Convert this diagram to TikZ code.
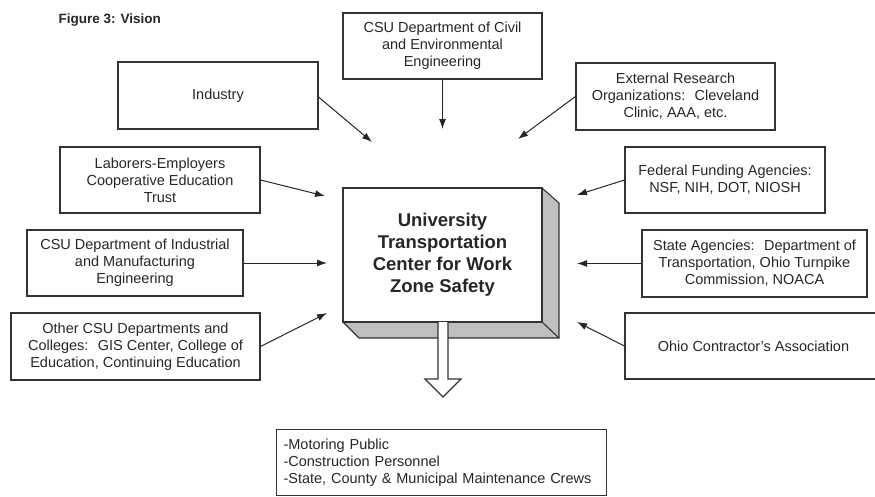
\documentclass[tikz,border=0pt]{standalone}
\usepackage{fontspec}
\setmainfont{Liberation Sans}
\usetikzlibrary{arrows.meta}

\begin{document}
\begin{tikzpicture}[x=1pt, y=-1pt, >={Latex[length=10pt,width=7pt]},
    box/.style={draw=black!80, line width=1.1pt, rectangle, align=center,
      inner sep=0pt, text=black!85, font=\fontsize{14.5}{17}\selectfont},
    feed/.style={->, line width=1pt, draw=black!85}]

  \useasboundingbox (0,0) rectangle (875,496);

  % ---- Title ----
  \node[anchor=west, font=\fontsize{13.5}{16}\selectfont\bfseries, text=black!85]
    (title) at (55,20) {Figure 3: Vision};

  % ---- Partner boxes (centres and sizes in pixels) ----
  \node[box, minimum width=199, minimum height=66] (civil) at (442.5,46)
    {CSU Department of Civil\\and Environmental\\Engineering};
  \node[box, minimum width=200, minimum height=67] (industry) at (218,95.5)
    {Industry};
  \node[box, minimum width=199, minimum height=67] (external) at (675.5,96.5)
    {External Research\\Organizations:~ Cleveland\\Clinic, AAA, etc.};
  \node[box, minimum width=200, minimum height=66] (laborers) at (160,180)
    {Laborers-Employers\\Cooperative Education\\Trust};
  \node[box, minimum width=200, minimum height=66] (federal) at (725,180)
    {Federal Funding Agencies:\\NSF, NIH, DOT, NIOSH};
  \node[box, minimum width=216, minimum height=66] (industrial) at (135,263)
    {CSU Department of Industrial\\and Manufacturing\\Engineering};
  \node[box, minimum width=225, minimum height=67] (state) at (754.5,263.5)
    {State Agencies:~ Department of\\Transportation, Ohio Turnpike\\Commission, NOACA};
  \node[box, minimum width=249, minimum height=67] (other) at (135.5,346.5)
    {Other CSU Departments and\\Colleges:~ GIS Center, College of\\Education, Continuing Education};
  \node[box, minimum width=257, minimum height=66] (ohio) at (753.5,346)
    {Ohio Contractor's Association};

  % ---- Centre: raised block ----
  \fill[gray!50] (542,188) -- (559,203) -- (559,338) -- (359,338) -- (343,322) -- cycle;
  \draw[black!80, line width=1.1pt] (542,188) -- (559,203) -- (559,338) -- (359,338) -- (343,322);
  \draw[black!80, line width=1.1pt] (542,322) -- (559,338);
  \node[box, fill=white, minimum width=199, minimum height=134,
    font=\fontsize{18.5}{22}\selectfont\bfseries] (utc) at (442.5,255)
    {University\\Transportation\\Center for Work\\Zone Safety};

  % ---- Hollow output arrow ----
  \draw[black!80, line width=1.1pt, fill=white, line join=miter]
    (438,322) -- (438,379) -- (425,379) -- (443,397) -- (461,379) -- (448,379) -- (448,322);

  % ---- Beneficiaries ----
  \node[box, anchor=north west, align=left, text width=316, inner xsep=7,
    minimum height=66] (public) at (276,429)
    {-Motoring Public\\-Construction Personnel\\-State, County \& Municipal Maintenance Crews};

  % ---- Arrow tips around the centre ----
  \coordinate (tIndustry) at (372,142);
  \coordinate (tCivil) at (442.5,129);
  \coordinate (tExternal) at (518,139);
  \coordinate (tLaborers) at (325,196);
  \coordinate (tFederal) at (577,195);
  \coordinate (tIndustrial) at (327,263);
  \coordinate (tState) at (577,263.5);
  \coordinate (tOther) at (327,313);
  \coordinate (tOhio) at (577,322);

  \draw[feed] (industry.east) ++(0,1.5) -- (tIndustry);
  \draw[feed] (civil.south) -- (tCivil);
  \draw[feed] (external.west) -- (tExternal);
  \draw[feed] (laborers.east) -- (tLaborers);
  \draw[feed] (federal.west) -- (tFederal);
  \draw[feed] (industrial.east) -- (tIndustrial);
  \draw[feed] (state.west) -- (tState);
  \draw[feed] (other.east) -- (tOther);
  \draw[feed] (ohio.west) -- (tOhio);

\end{tikzpicture}
\end{document}
